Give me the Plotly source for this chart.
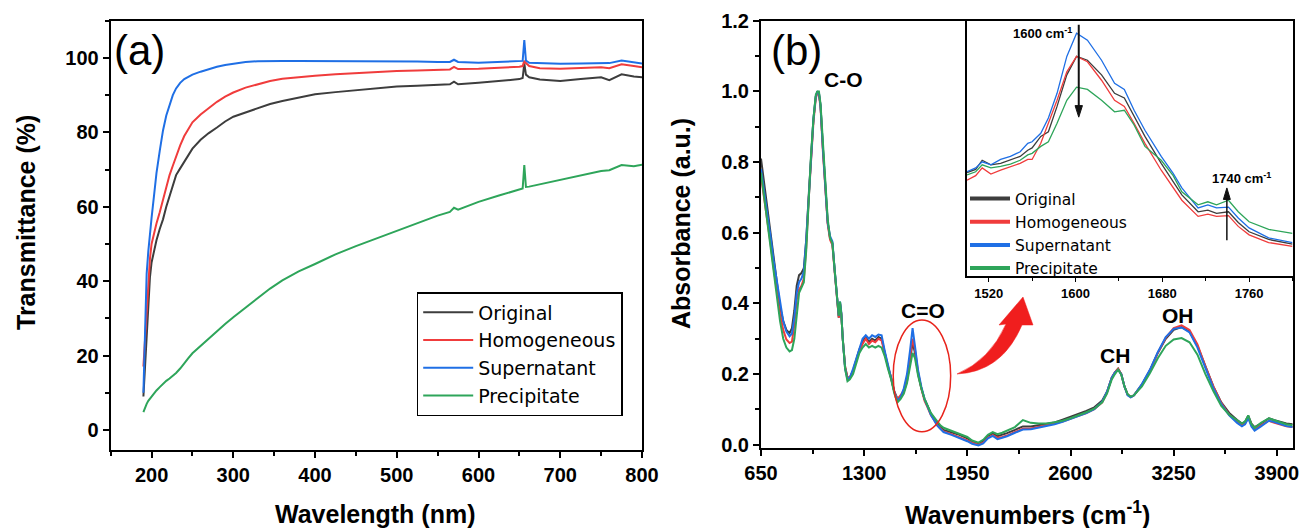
import plotly.graph_objects as go

W, H = 1301, 528
FONT = "Liberation Sans, Arial, sans-serif"
LEGEND_FONT = "DejaVu Sans, Liberation Sans, sans-serif"

# ---------------- data: panel (a) UV-vis ----------------
wavelength_nm = [190, 192, 194, 196, 198, 200, 203, 206, 210, 214,
                 218, 222, 226, 230, 235, 240, 245, 250, 260, 270,
                 280, 290, 300, 315, 330, 345, 360, 380, 400, 425,
                 450, 475, 500, 525, 550, 565, 570, 575, 600, 625,
                 650, 654, 656, 658, 662, 675, 700, 725, 750, 760,
                 775, 790, 800]
uv_original = [9, 18, 27, 35, 41, 45, 48.5, 51, 54, 56.6,
               60, 63, 66, 68.5, 70.3, 72, 74, 75.6, 78.0, 79.8,
               81.3, 82.9, 84.2, 85.4, 86.5, 87.6, 88.4, 89.4, 90.2, 90.8,
               91.3, 92.0, 92.3, 92.5, 92.7, 92.9, 93.6, 92.9, 93.3, 93.7,
               94.3, 94.6, 98.5, 95.5, 94.8, 94.2, 93.8, 94.3, 94.8, 94.0,
               95.6, 95.0, 94.8]
uv_homogeneous = [17, 25, 33, 40, 46, 50, 53, 55.5, 58.5, 62,
                  65.5, 68.5, 71, 73.5, 76.5, 79, 81, 82.7, 84.8, 86.6,
                  88.2, 89.6, 90.7, 92.0, 93.0, 93.8, 94.4, 94.9, 95.2, 95.6,
                  95.9, 96.3, 96.5, 96.6, 96.7, 96.9, 97.6, 97.0, 97.1, 97.3,
                  97.6, 97.8, 99.2, 98.6, 97.8, 97.2, 97.1, 97.3, 97.5, 97.2,
                  98.3, 97.8, 97.5]
uv_supernatant = [10, 30, 42, 48, 53, 57, 63, 69, 75, 80.5,
                  84.5, 87.5, 90, 91.8, 93.3, 94.3, 95, 95.5, 96.3, 97,
                  97.6, 98.1, 98.5, 98.9, 99.1, 99.2, 99.2, 99.2, 99.2, 99.2,
                  99.1, 99.2, 99.1, 99.0, 98.9, 98.9, 99.5, 98.9, 98.7, 98.9,
                  99.1, 99.2, 104.8, 99.3, 98.7, 98.6, 98.4, 98.5, 98.7, 98.6,
                  99.3, 98.8, 98.5]
uv_precipitate = [4.8, 6, 7, 7.8, 8.4, 9, 9.8, 10.6, 11.5, 12.5,
                  13.2, 13.8, 14.5, 15.3, 16.5, 18, 19.3, 20.6, 22.6, 24.5,
                  26.5, 28.5, 30.3, 32.8, 35.5, 38, 40.2, 42.6, 44.6, 47.2,
                  49.4, 51.5, 53.5, 55.6, 57.6, 58.6, 59.7, 59.2, 61.3, 63,
                  64.5, 64.9, 71.2, 65.3, 65.4, 66, 67.2, 68.4, 69.6, 69.8,
                  71.2, 70.9, 71.3]

# ---------------- data: panel (b) FTIR ----------------
ftir_wavenumber = [650, 670, 690, 710, 730, 750, 770, 790, 810, 830,
                   845, 860, 875, 890, 905, 920, 935, 950, 965, 980,
                   995, 1005, 1015, 1025, 1040, 1055, 1070, 1085, 1100, 1115,
                   1130, 1140, 1148, 1156, 1165, 1180, 1195, 1210, 1230, 1250,
                   1270, 1290, 1310, 1330, 1350, 1370, 1390, 1410, 1430, 1450,
                   1470, 1490, 1510, 1530, 1550, 1570, 1590, 1605, 1620, 1640,
                   1660, 1680, 1700, 1720, 1740, 1760, 1780, 1800, 1850, 1900,
                   1950, 1980, 2000, 2020, 2050, 2080, 2110, 2140, 2170, 2200,
                   2250, 2300, 2350, 2400, 2450, 2500, 2550, 2600, 2650, 2700,
                   2750, 2800, 2830, 2860, 2880, 2900, 2920, 2940, 2960, 2980,
                   3000, 3050, 3100, 3150, 3200, 3250, 3300, 3350, 3400, 3450,
                   3500, 3550, 3600, 3650, 3680, 3700, 3720, 3740, 3760, 3800,
                   3850, 3880, 3920, 3960, 4000]
ftir_original = [.81, .74, .67, .59, .52, .45, .39, .35, .325, .316,
                 .33, .38, .45, .48, .486, .50, .58, .70, .82, .92,
                 .985, 1.0, .995, .96, .84, .72, .63, .585, .57, .49,
                 .40, .36, .40, .37, .30, .22, .19, .19, .21, .24,
                 .27, .29, .305, .29, .30, .295, .305, .30, .26, .22,
                 .19, .15, .13, .135, .15, .18, .24, .29, .26, .20,
                 .16, .13, .11, .088, .075, .06, .05, .042, .035, .028,
                 .018, .01, .005, .004, .01, .025, .032, .024, .028, .033,
                 .042, .052, .052, .055, .058, .063, .071, .079, .087, .096,
                 .106, .125, .15, .19, .205, .215, .20, .165, .142, .135,
                 .14, .17, .21, .26, .30, .325, .333, .32, .28, .22,
                 .165, .12, .09, .07, .06, .065, .082, .06, .05, .06,
                 .075, .07, .065, .06, .058]
ftir_homogeneous = [.76, .70, .64, .57, .50, .43, .37, .325, .298, .288,
                    .292, .34, .41, .44, .45, .47, .56, .69, .81, .91,
                    .98, .995, .99, .955, .83, .71, .625, .58, .565, .485,
                    .395, .36, .40, .37, .30, .22, .19, .19, .21, .24,
                    .265, .285, .30, .285, .295, .29, .30, .295, .26, .22,
                    .19, .15, .13, .14, .155, .19, .25, .30, .27, .205,
                    .16, .125, .105, .084, .07, .055, .046, .038, .03, .022,
                    .012, .006, .002, .0, .006, .02, .027, .02, .022, .026,
                    .036, .045, .046, .05, .055, .06, .066, .073, .082, .09,
                    .101, .12, .148, .19, .205, .215, .20, .165, .142, .135,
                    .14, .17, .21, .26, .303, .33, .338, .325, .284, .222,
                    .165, .118, .085, .065, .055, .06, .078, .055, .045, .055,
                    .068, .063, .058, .052, .05]
ftir_supernatant = [.78, .72, .66, .59, .52, .46, .40, .35, .32, .307,
                    .315, .36, .43, .46, .47, .49, .58, .70, .82, .92,
                    .985, 1.0, .995, .96, .84, .72, .63, .59, .575, .49,
                    .40, .365, .405, .375, .30, .215, .185, .19, .215, .245,
                    .275, .30, .31, .30, .31, .305, .312, .31, .265, .225,
                    .19, .15, .125, .135, .16, .20, .27, .33, .28, .21,
                    .165, .13, .108, .085, .07, .055, .045, .036, .028, .02,
                    .01, .003, .0, -.002, .004, .018, .025, .016, .02, .024,
                    .034, .043, .044, .048, .053, .058, .065, .073, .081, .09,
                    .101, .122, .15, .19, .205, .212, .20, .165, .14, .134,
                    .14, .172, .212, .262, .305, .328, .332, .318, .275, .215,
                    .16, .115, .083, .062, .052, .058, .075, .052, .04, .052,
                    .068, .065, .058, .053, .05]
ftir_precipitate = [.77, .70, .63, .55, .48, .41, .35, .30, .275, .264,
                    .268, .30, .37, .43, .445, .46, .55, .69, .82, .92,
                    .99, 1.0, 1.0, .965, .85, .73, .64, .585, .57, .49,
                    .40, .365, .405, .37, .30, .215, .18, .185, .20, .23,
                    .26, .275, .285, .275, .28, .275, .28, .275, .25, .215,
                    .185, .145, .12, .13, .145, .175, .22, .26, .245, .195,
                    .16, .13, .11, .09, .078, .065, .055, .048, .04, .032,
                    .022, .012, .008, .006, .014, .028, .036, .03, .034, .04,
                    .05, .07, .062, .06, .06, .064, .068, .075, .083, .092,
                    .102, .12, .145, .185, .20, .213, .198, .165, .143, .136,
                    .14, .165, .202, .245, .28, .298, .302, .29, .255, .20,
                    .152, .11, .085, .068, .06, .066, .083, .058, .048, .062,
                    .075, .07, .063, .058, .055]

# ---------------- data: inset (C=O region) ----------------
inset_wavenumber = [1500, 1508, 1514, 1522, 1531, 1540, 1549, 1556, 1560, 1568,
                    1575, 1583, 1592, 1601, 1611, 1624, 1636, 1645, 1654, 1664,
                    1679, 1690, 1698, 1713, 1722, 1730, 1741, 1750, 1760, 1778,
                    1800]
inset_original = [.149, .153, .165, .159, .161, .165, .170, .178, .181, .196,
                  .202, .235, .276, .300, .295, .276, .252, .246, .222, .196,
                  .161, .137, .120, .098, .100, .096, .098, .084, .072, .062,
                  .056]
inset_homogeneous = [.139, .145, .155, .147, .152, .156, .161, .166, .166, .187,
                     .213, .243, .280, .300, .293, .269, .243, .235, .213, .187,
                     .152, .129, .113, .092, .095, .092, .093, .079, .068, .058,
                     .053]
inset_supernatant = [.150, .155, .163, .159, .166, .170, .176, .187, .189, .200,
                     .220, .252, .300, .330, .321, .295, .265, .257, .230, .204,
                     .170, .148, .129, .103, .107, .103, .104, .090, .077, .064,
                     .058]
inset_precipitate = [.146, .150, .159, .155, .157, .160, .165, .172, .174, .183,
                     .189, .213, .243, .260, .257, .243, .228, .230, .211, .183,
                     .165, .145, .124, .107, .111, .107, .113, .098, .085, .075,
                     .070]

series_names = ["Original", "Homogeneous", "Supernatant", "Precipitate"]
series_colors = ["#3d3d3d", "#f03c3c", "#1f6fe5", "#2ea55a"]
uv_series = [uv_original, uv_homogeneous, uv_supernatant, uv_precipitate]
ftir_series = [ftir_original, ftir_homogeneous, ftir_supernatant, ftir_precipitate]
inset_series = [inset_original, inset_homogeneous, inset_supernatant, inset_precipitate]

for s in uv_series:
    assert len(s) == len(wavelength_nm)
for s in ftir_series:
    assert len(s) == len(ftir_wavenumber)
for s in inset_series:
    assert len(s) == len(inset_wavenumber)


def px(x, y):
    """pixel position on the canvas -> paper fraction"""
    return x / W, 1 - y / H


fig = go.Figure()

for name, color, vals in zip(series_names, series_colors, uv_series):
    fig.add_trace(go.Scatter(x=wavelength_nm, y=vals, mode="lines", name=name,
                             line=dict(color=color, width=2),
                             xaxis="x", yaxis="y", legend="legend"))

for name, color, vals in zip(series_names, series_colors, ftir_series):
    fig.add_trace(go.Scatter(x=ftir_wavenumber, y=vals, mode="lines", name=name,
                             line=dict(color=color, width=2),
                             xaxis="x2", yaxis="y2", showlegend=False))

for name, color, vals in zip(series_names, series_colors, inset_series):
    fig.add_trace(go.Scatter(x=inset_wavenumber, y=vals, mode="lines", name=name,
                             line=dict(color=color, width=1.3),
                             xaxis="x3", yaxis="y3", showlegend=False))

# legend-only entries (thick lines) for the inset legend
for name, color in zip(series_names, series_colors):
    fig.add_trace(go.Scatter(x=[None], y=[None], mode="lines", name=name,
                             line=dict(color=color, width=4),
                             xaxis="x3", yaxis="y3", legend="legend2"))

tickfont = dict(family=FONT, size=20, color="black", weight="bold")
common = dict(showline=True, linecolor="black", linewidth=2, mirror=True,
              ticks="outside", ticklen=6, tickwidth=1.5, tickcolor="black",
              showgrid=False, zeroline=False, tickfont=tickfont, automargin=False)


def dom_x(l, r):
    return [l / W, r / W]


def dom_y(t, b):
    return [1 - b / H, 1 - t / H]


fig.update_layout(
    width=W, height=H,
    margin=dict(l=0, r=0, t=0, b=0),
    paper_bgcolor="white", plot_bgcolor="white",
    font=dict(family=FONT, color="black"),
    xaxis=dict(domain=dom_x(110.7, 642), range=[150, 800], anchor="y",
               dtick=100, minor=dict(dtick=50, ticks="outside", ticklen=4,
                                     tickcolor="black", tickwidth=1.5), **common),
    yaxis=dict(domain=dom_y(20.7, 450), range=[-5.4, 110], anchor="x",
               dtick=20, minor=dict(dtick=10, ticks="outside", ticklen=4,
                                    tickcolor="black", tickwidth=1.5), **common),
    xaxis2=dict(domain=dom_x(761, 1292.7), range=[650, 4000], anchor="y2",
                tick0=650, dtick=650,
                minor=dict(tick0=650, dtick=325, ticks="outside", ticklen=4,
                           tickcolor="black", tickwidth=1.5), **common),
    yaxis2=dict(domain=dom_y(20.7, 448.3), range=[-0.01, 1.2], anchor="x2",
                dtick=0.2, tickformat=".1f",
                minor=dict(dtick=0.1, ticks="outside", ticklen=4,
                           tickcolor="black", tickwidth=1.5), **common),
    xaxis3=dict(domain=dom_x(967, 1292.5), range=[1500, 1800], anchor="y3",
                tick0=1520, dtick=80, showline=True, linecolor="black", linewidth=2,
                mirror=True, ticks="outside", ticklen=4, tickwidth=1.2,
                tickcolor="black", showgrid=False, zeroline=False,
                minor=dict(tick0=1520, dtick=40, ticks="outside", ticklen=3,
                           tickcolor="black", tickwidth=1.2),
                tickfont=dict(family=FONT, size=13, color="black", weight="bold")),
    yaxis3=dict(domain=dom_y(20.7, 276), range=[0.0145, 0.3464], anchor="x3",
                showline=True, linecolor="black", linewidth=2, mirror=True,
                ticks="", showticklabels=False, showgrid=False, zeroline=False),
    legend=dict(x=416.7 / W, y=1 - 292 / H, xanchor="left", yanchor="top",
                bordercolor="black", borderwidth=1.5, bgcolor="white",
                font=dict(family=LEGEND_FONT, size=19, color="black"),
                itemwidth=50, tracegroupgap=0),
    legend2=dict(x=965 / W, y=1 - 182 / H, xanchor="left", yanchor="top",
                 borderwidth=0, bgcolor="rgba(0,0,0,0)",
                 font=dict(family=LEGEND_FONT, size=15.5, color="black"),
                 itemwidth=40, tracegroupgap=0),
    showlegend=True,
)

ann = []


def text(t, x, y, size, bold=True, xanchor="center", yanchor="middle", angle=0):
    xp, yp = px(x, y)
    ann.append(dict(text=t, x=xp, y=yp, xref="paper", yref="paper",
                    xanchor=xanchor, yanchor=yanchor, showarrow=False,
                    textangle=angle,
                    font=dict(family=FONT, size=size, color="black",
                              weight="bold" if bold else "normal")))


text("(a)", 112, 51, 42, bold=False, xanchor="left")
text("(b)", 769, 51, 42, bold=False, xanchor="left")
text("Wavelength (nm)", 375, 514, 25)
text("Transmittance (%)", 26, 223, 25, angle=-90)
text("Wavenumbers (cm<sup>-1</sup>)", 1027, 513, 25)
text("Absorbance (a.u.)", 681, 224, 25, angle=-90)
text("C-O", 844, 79, 21)
text("C=O", 923, 310, 21)
text("CH", 1115, 355, 21)
text("OH", 1178, 315, 21)
text("1600 cm<sup>-1</sup>", 1074, 33, 13, xanchor="right")
text("1740 cm<sup>-1</sup>", 1241, 178, 13)
fig.update_layout(annotations=ann)

# inset arrows (shaft + head) in inset data coordinates
arrow_black = "#111111"
fig.add_shape(type="line", xref="x3", yref="y3", x0=1603, x1=1603, y0=0.341, y1=0.234,
              line=dict(color=arrow_black, width=2))
fig.add_shape(type="path", xref="x3", yref="y3",
              path="M 1599.6,0.236 L 1603,0.221 L 1606.4,0.236 Z",
              fillcolor=arrow_black, line=dict(color=arrow_black, width=1))
fig.add_shape(type="line", xref="x3", yref="y3", x0=1739.5, x1=1739.5, y0=0.061, y1=0.116,
              line=dict(color=arrow_black, width=1.5))
fig.add_shape(type="path", xref="x3", yref="y3",
              path="M 1736.3,0.114 L 1739.5,0.129 L 1742.7,0.114 Z",
              fillcolor=arrow_black, line=dict(color=arrow_black, width=1))

# red ellipse around C=O band
fig.add_shape(type="circle", xref="x2", yref="y2", x0=1483, x1=1845,
              y0=0.037, y1=0.353, line=dict(color="#e8241c", width=1.5))

# curved red arrow pointing to the inset
pts = {
    "tail": (957, 374), "c1": (990, 360), "b1": (1006, 324), "h1": (999, 325),
    "tip": (1023, 297), "h2": (1033, 325), "b2": (1022, 325), "c2": (1002, 372),
}
P = {k: px(*v) for k, v in pts.items()}
path = ("M {tail[0]},{tail[1]} Q {c1[0]},{c1[1]} {b1[0]},{b1[1]} "
        "L {h1[0]},{h1[1]} L {tip[0]},{tip[1]} L {h2[0]},{h2[1]} "
        "L {b2[0]},{b2[1]} Q {c2[0]},{c2[1]} {tail[0]},{tail[1]} Z").format(**P)
fig.add_shape(type="path", path=path, xref="paper", yref="paper",
              fillcolor="#f01e1e", line=dict(color="#f01e1e", width=0.5))

fig.write_html("out.html",
               config={"displayModeBar": False},
               post_script="document.body.style.margin='0px';"
                           "document.body.style.overflow='hidden';")
